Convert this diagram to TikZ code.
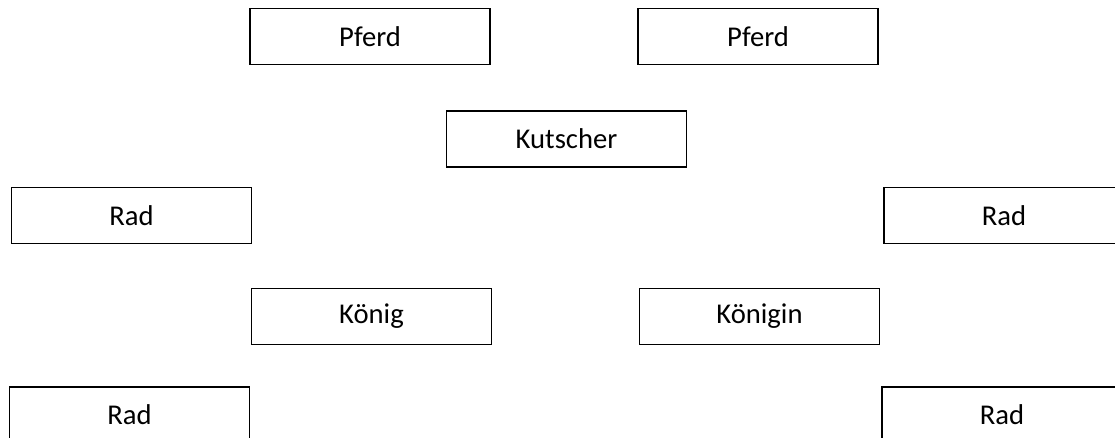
\documentclass[tikz,border=0pt]{standalone}
\usepackage{fontspec}
\setmainfont{Carlito}
\usetikzlibrary{positioning}

\begin{document}
\begin{tikzpicture}[x=0.02cm, y=-0.02cm,
        feld/.style={draw, line width=1.1pt, minimum width=4.8cm,
            minimum height=1.12cm, inner sep=0pt,
            font=\fontsize{16.3}{19}\selectfont}]
        \useasboundingbox (0, 0) rectangle (1115, 438);
        \clip (0, 0) rectangle (1115, 438);
        \node[feld] (pferdL) at (370, 36.5) {Pferd};
        \node[feld] (pferdR) at (758, 36.5) {Pferd};
        \node[feld] (kutscher) at (566.5, 139) {Kutscher};
        \node[feld] (radOL) at (131.5, 215.5) {Rad};
        \node[feld] (radOR) at (1004, 215.5) {Rad};
        \node[feld] (koenig) at (371.5, 316.5) {König};
        \node[feld] (koenigin) at (759.5, 316.5) {Königin};
        \node[feld] (radUL) at (129.5, 415) {Rad};
        \node[feld] (radUR) at (1002, 415) {Rad};
    \end{tikzpicture}
\end{document}
